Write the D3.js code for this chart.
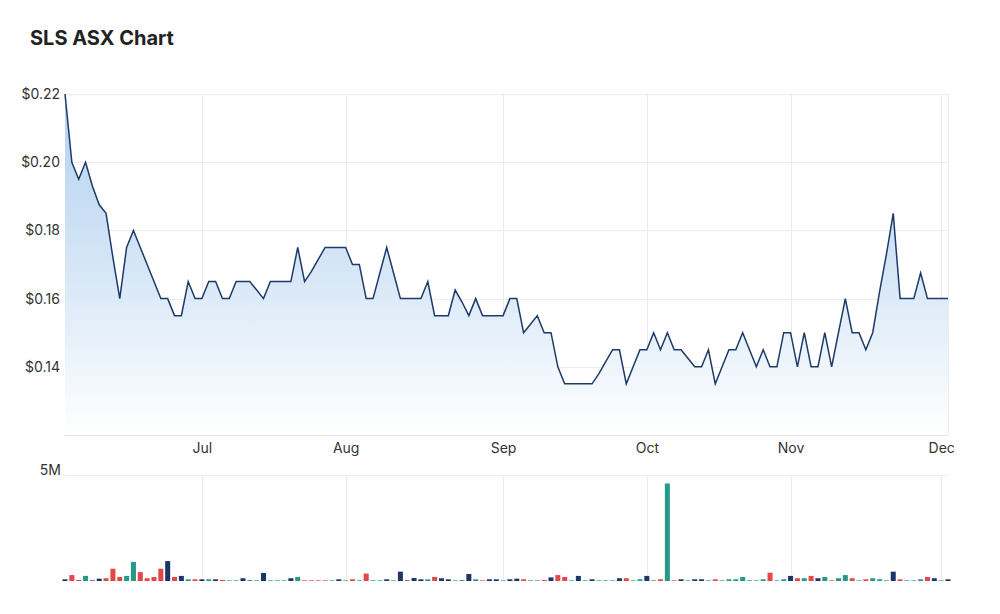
<!DOCTYPE html>
<html>
<head>
<meta charset="utf-8">
<script src="https://cdn.jsdelivr.net/npm/d3@7"></script>
<style>
  body { margin: 0; background: #fff; font-family: Inter, "Noto Sans", sans-serif; }
  svg { display: block; }
</style>
</head>
<body>
<svg id="chart" width="1000" height="614"></svg>
<script>
(function () {
    'use strict';

    // trading calendar (ASX, Jun - Dec 2022)
    const startDay = '2022-06-02';
    const endDay = '2022-12-02';
    const holidays = ['2022-06-13', '2022-09-22'];

    const closePrices = [
        0.22, 0.20, 0.195, 0.20, 0.193, 0.1875, 0.185, 0.172, 0.16, 0.175,
        0.18, 0.175, 0.17, 0.165, 0.16, 0.16, 0.155, 0.155, 0.165, 0.16,
        0.16, 0.165, 0.165, 0.16, 0.16, 0.165, 0.165, 0.165, 0.1625, 0.16,
        0.165, 0.165, 0.165, 0.165, 0.175, 0.165, 0.168, 0.1715, 0.175, 0.175,
        0.175, 0.175, 0.17, 0.17, 0.16, 0.16, 0.1675, 0.175, 0.1675, 0.16,
        0.16, 0.16, 0.16, 0.165, 0.155, 0.155, 0.155, 0.1625, 0.159, 0.155,
        0.16, 0.155, 0.155, 0.155, 0.155, 0.16, 0.16, 0.15, 0.1525, 0.155,
        0.15, 0.15, 0.14, 0.135, 0.135, 0.135, 0.135, 0.135, 0.138, 0.1415,
        0.145, 0.145, 0.135, 0.14, 0.145, 0.145, 0.15, 0.145, 0.15, 0.145,
        0.145, 0.1425, 0.14, 0.14, 0.145, 0.135, 0.14, 0.145, 0.145, 0.15,
        0.145, 0.14, 0.145, 0.14, 0.14, 0.15, 0.15, 0.14, 0.15, 0.14,
        0.14, 0.15, 0.14, 0.15, 0.16, 0.15, 0.15, 0.145, 0.15, 0.162,
        0.173, 0.185, 0.16, 0.16, 0.16, 0.1675, 0.16, 0.16, 0.16, 0.16
    ];

    // volume in millions of shares
    const volumes = [
        0.08, 0.28, 0.05, 0.24, 0.03, 0.11, 0.13, 0.58, 0.19, 0.24,
        0.90, 0.42, 0.13, 0.19, 0.58, 0.94, 0.19, 0.24, 0.08, 0.08,
        0.08, 0.08, 0.08, 0.05, 0.03, 0.03, 0.13, 0.03, 0.03, 0.38,
        0.03, 0.03, 0.03, 0.13, 0.19, 0.03, 0.03, 0.03, 0.03, 0.03,
        0.08, 0.03, 0.08, 0.03, 0.35, 0.03, 0.03, 0.08, 0.03, 0.44,
        0.03, 0.14, 0.08, 0.08, 0.19, 0.13, 0.08, 0.03, 0.03, 0.33,
        0.08, 0.03, 0.08, 0.08, 0.03, 0.08, 0.11, 0.08, 0.03, 0.03,
        0.05, 0.17, 0.28, 0.19, 0.03, 0.24, 0.03, 0.08, 0.03, 0.03,
        0.03, 0.13, 0.13, 0.03, 0.08, 0.24, 0.03, 0.08, 4.6, 0.03,
        0.08, 0.03, 0.08, 0.08, 0.03, 0.08, 0.03, 0.08, 0.08, 0.19,
        0.03, 0.03, 0.08, 0.39, 0.03, 0.08, 0.24, 0.13, 0.13, 0.24,
        0.13, 0.19, 0.03, 0.13, 0.28, 0.13, 0.03, 0.08, 0.13, 0.08,
        0.03, 0.44, 0.08, 0.03, 0.03, 0.08, 0.19, 0.13, 0.03, 0.08
    ];

    // bar colour per day: u = up, d = down, n = unchanged
    const moves = [
        'nddunndddu', 'uddddndnud', 'nunduunnun', 'uuunuddddu', 'nududuunun',
        'nnnudnnunn', 'udnnunnduu', 'dnddununuu', 'unduunudud', 'nunnuduuuu',
        'uuuduundud', 'nuduududuu', 'unduuudnun'
    ].join('').split('');

    const priceTicks = [0.14, 0.16, 0.18, 0.20, 0.22];
    const volumeTicks = [5];

    const moveColor = { u: '#26998a', d: '#e4474a', n: '#1c3766' };

    // build the list of trading days
    const parse = d3.utcParse('%Y-%m-%d');
    const fmt = d3.utcFormat('%Y-%m-%d');
    const tradingDays = d3.utcDays(parse(startDay), d3.utcDay.offset(parse(endDay), 1))
            .filter(d => d.getUTCDay() % 6 !== 0 && !holidays.includes(fmt(d)))
            .map(fmt);

    const rows = tradingDays.map((day, i) => ({
        day: day,
        close: closePrices[i],
        volume: volumes[i],
        move: moves[i]
    }));

    const monthStarts = tradingDays.filter((d, i) => i > 0 && d.slice(5, 7) !== tradingDays[i - 1].slice(5, 7));

    const left = 65, right = 948;
    const priceTop = 94, priceBottom = 435;
    const volTop = 475, volBottom = 581;

    const svg = d3.select('#chart');

    const x = d3.scalePoint()
            .domain(tradingDays)
            .range([left, right]);

    const yPrice = d3.scaleLinear()
            .domain([0.12, 0.22])
            .range([priceBottom, priceTop]);

    const yVol = d3.scaleLinear()
            .domain([0, 5])
            .range([volBottom, volTop]);

    svg.append('text')
            .attr('x', 30)
            .attr('y', 45)
            .attr('fill', '#222')
            .style('font-size', '20px')
            .style('font-weight', 700)
            .text('SLS ASX Chart');

    const defs = svg.append('defs');
    const grad = defs.append('linearGradient')
            .attr('id', 'areaFill')
            .attr('gradientUnits', 'userSpaceOnUse')
            .attr('x1', 0).attr('x2', 0)
            .attr('y1', priceTop).attr('y2', priceBottom);
    grad.append('stop').attr('offset', 0).attr('stop-color', '#b0d0f0');
    grad.append('stop').attr('offset', 0.55).attr('stop-color', '#d9e8f7');
    grad.append('stop').attr('offset', 1).attr('stop-color', '#ffffff');

    // grid
    const grid = svg.append('g').attr('stroke', '#ececec').attr('stroke-width', 1);

    grid.selectAll('line.h')
            .data(priceTicks)
            .join('line')
            .attr('x1', left).attr('x2', right)
            .attr('y1', d => Math.round(yPrice(d)) + 0.5)
            .attr('y2', d => Math.round(yPrice(d)) + 0.5);

    grid.selectAll('line.vp')
            .data(monthStarts)
            .join('line')
            .attr('x1', d => Math.round(x(d)) + 0.5)
            .attr('x2', d => Math.round(x(d)) + 0.5)
            .attr('y1', priceTop).attr('y2', priceBottom);

    grid.selectAll('line.vv')
            .data(monthStarts)
            .join('line')
            .attr('x1', d => Math.round(x(d)) + 0.5)
            .attr('x2', d => Math.round(x(d)) + 0.5)
            .attr('y1', volTop).attr('y2', volBottom);

    grid.selectAll('line.hv')
            .data(volumeTicks)
            .join('line')
            .attr('x1', left).attr('x2', right)
            .attr('y1', d => Math.round(yVol(d)) + 0.5)
            .attr('y2', d => Math.round(yVol(d)) + 0.5);

    grid.append('line')
            .attr('x1', right + 0.5).attr('x2', right + 0.5)
            .attr('y1', priceTop).attr('y2', priceBottom);

    // price area + line
    const area = d3.area()
            .x(d => x(d.day))
            .y0(priceBottom)
            .y1(d => yPrice(d.close));

    const line = d3.line()
            .x(d => x(d.day))
            .y(d => yPrice(d.close));

    svg.append('path')
            .datum(rows)
            .attr('fill', 'url(#areaFill)')
            .attr('d', area);

    svg.append('line')
            .attr('x1', left).attr('x2', right)
            .attr('y1', priceBottom + 0.5).attr('y2', priceBottom + 0.5)
            .attr('stroke', '#e3e3e3');

    svg.append('path')
            .datum(rows)
            .attr('fill', 'none')
            .attr('stroke', '#1d3a68')
            .attr('stroke-width', 1.5)
            .attr('stroke-linejoin', 'miter')
            .attr('d', line);

    // axes
    const yAxis = d3.axisLeft(yPrice)
            .tickValues(priceTicks)
            .tickSize(0)
            .tickPadding(5)
            .tickFormat(d => '$' + d.toFixed(2));

    svg.append('g')
            .attr('transform', `translate(${left},0)`)
            .call(yAxis)
            .call(g => g.select('.domain').remove())
            .call(g => g.selectAll('text')
                    .attr('fill', '#333')
                    .style('font-family', 'Inter, sans-serif')
                    .style('font-size', '14px'));

    const xAxis = d3.axisBottom(x)
            .tickValues(monthStarts)
            .tickSize(0)
            .tickPadding(8)
            .tickFormat(d => d3.utcFormat('%b')(parse(d)));

    svg.append('g')
            .attr('transform', `translate(0,${priceBottom})`)
            .call(xAxis)
            .call(g => g.select('.domain').remove())
            .call(g => g.selectAll('text')
                    .attr('fill', '#333')
                    .style('font-family', 'Inter, sans-serif')
                    .style('font-size', '14px'));

    const volAxis = d3.axisLeft(yVol)
            .tickValues(volumeTicks)
            .tickSize(0)
            .tickPadding(4)
            .tickFormat(d => d + 'M');

    svg.append('g')
            .attr('transform', `translate(${left},-5)`)
            .call(volAxis)
            .call(g => g.select('.domain').remove())
            .call(g => g.selectAll('text')
                    .attr('fill', '#333')
                    .style('font-family', 'Inter, sans-serif')
                    .style('font-size', '14px'));

    // volume bars
    const barWidth = 5;
    svg.append('g')
            .selectAll('rect')
            .data(rows)
            .join('rect')
            .attr('x', d => x(d.day) - barWidth / 2)
            .attr('width', barWidth)
            .attr('y', d => yVol(d.volume))
            .attr('height', d => volBottom - yVol(d.volume))
            .attr('fill', d => moveColor[d.move]);

}());
</script>
</body>
</html>
